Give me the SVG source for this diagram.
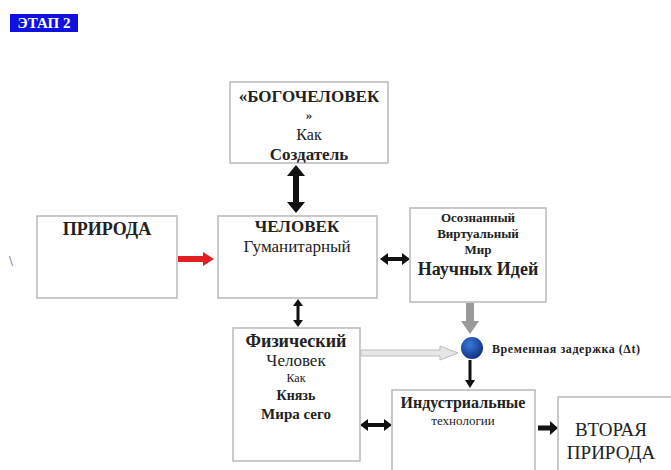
<svg xmlns="http://www.w3.org/2000/svg" width="671" height="470" viewBox="0 0 671 470">
<style>
.box{fill:#fff;stroke:#bdbdbd;stroke-width:1.6}
text{font-family:"Liberation Serif","DejaVu Serif","Times New Roman",serif;fill:#222;text-anchor:middle}
.b{font-weight:bold}
.blk{fill:#111}
</style>
<defs>
<radialGradient id="ball" cx="0.4" cy="0.35" r="0.7"><stop offset="0" stop-color="#3c7ad8"/><stop offset="1" stop-color="#0b2f80"/></radialGradient>
</defs>
<rect width="671" height="470" fill="#fff"/>
<g id="stage">
<rect x="10" y="14" width="68" height="18" fill="#1010e0"/>
<text x="44" y="28" class="b" font-size="15" style="fill:#fff">ЭТАП 2</text>
</g>
<text x="11" y="266" font-size="14" style="fill:#555">\</text>
<g id="connectors">
<path class="blk" d="M296,165 L305,176 L299,176 L299,202 L305,202 L296,213 L287,202 L293,202 L293,176 L287,176 z"/>
<path fill="#e02020" d="M178,256 L203,256 L203,252 L214,259 L203,266 L203,262 L178,262 z"/>
<path class="blk" d="M380,259 L388,253 L388,257 L402,257 L402,253 L410,259 L402,265 L402,261 L388,261 L388,265 z"/>
<path class="blk" d="M298,299 L303,306 L299.5,306 L299.5,320 L303,320 L298,327 L293,320 L296.5,320 L296.5,306 L293,306 z"/>
<path fill="#9a9a9a" d="M466,303 L474,303 L474,321 L479,321 L470,334 L461,321 L466,321 z"/>
<path d="M361,350 H440 V346 L458,353 L440,360 V356 H361 z" fill="#e6e6e6" stroke="#bbb" stroke-width="1"/>
<path class="blk" d="M468.5,360 L471.5,360 L471.5,380 L475,380 L470,388 L465,380 L468.5,380 z"/>
<path class="blk" d="M360,425 L368,419 L368,423 L384,423 L384,419 L392,425 L384,431 L384,427 L368,427 L368,431 z"/>
<path class="blk" d="M538,425.5 L550,425.5 L550,421 L558,428 L550,435 L550,430.5 L538,430.5 z"/>
</g>
<g id="bogochelovek">
<rect class="box" x="230" y="82" width="158" height="81"/>
<text x="309" y="102" class="b" font-size="17">«БОГОЧЕЛОВЕК</text>
<text x="309" y="119" class="b" font-size="13">»</text>
<text x="309" y="140" font-size="16">Как</text>
<text x="309" y="160" class="b" font-size="17">Создатель</text>
</g>
<g id="priroda">
<rect class="box" x="37" y="216" width="140" height="82"/>
<text x="107" y="235" class="b" font-size="18">ПРИРОДА</text>
</g>
<g id="chelovek">
<rect class="box" x="218" y="216" width="159" height="82"/>
<text x="297" y="232" class="b" font-size="17">ЧЕЛОВЕК</text>
<text x="297" y="252" font-size="17">Гуманитарный</text>
</g>
<g id="ideas">
<rect class="box" x="410" y="208" width="136" height="94"/>
<text x="478" y="222" class="b" font-size="13">Осознанный</text>
<text x="478" y="238" class="b" font-size="13">Виртуальный</text>
<text x="478" y="254" class="b" font-size="13">Мир</text>
<text x="478" y="275" class="b" font-size="18">Научных Идей</text>
</g>
<g id="delay">
<circle cx="472" cy="348" r="11" fill="url(#ball)"/>
<text x="492" y="353" class="b" font-size="12" style="text-anchor:start" textLength="148">Временная задержка (Δt)</text>
</g>
<g id="physical">
<rect class="box" x="233" y="328" width="127" height="133"/>
<text x="296" y="347" class="b" font-size="18">Физический</text>
<text x="296" y="366" font-size="17">Человек</text>
<text x="296" y="382" font-size="12">Как</text>
<text x="296" y="400" class="b" font-size="14">Князь</text>
<text x="296" y="419" class="b" font-size="15">Мира сего</text>
</g>
<g id="industry">
<rect class="box" x="392" y="390" width="143" height="90"/>
<text x="463" y="408" class="b" font-size="16">Индустриальные</text>
<text x="463" y="425" font-size="13">технологии</text>
</g>
<g id="second">
<rect class="box" x="558" y="397" width="120" height="90"/>
<text x="611" y="436" font-size="19">ВТОРАЯ</text>
<text x="611" y="459" font-size="19">ПРИРОДА</text>
</g>
</svg>
